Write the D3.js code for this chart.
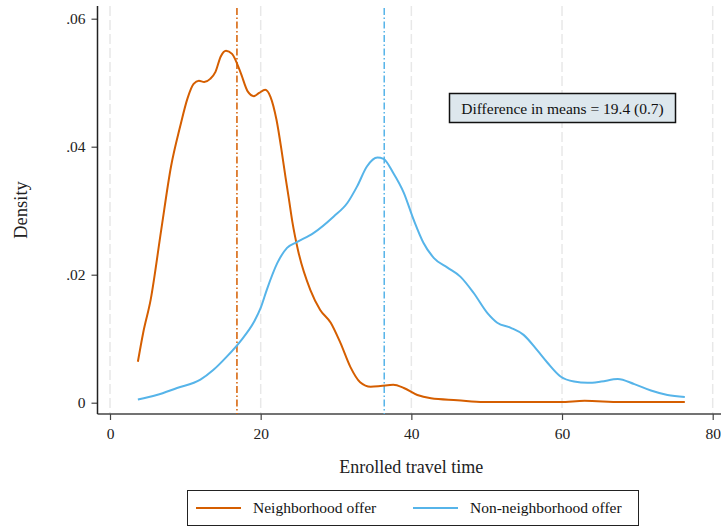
<!DOCTYPE html>
<html>
<head>
<meta charset="utf-8">
<script src="https://cdn.jsdelivr.net/npm/d3@7"></script>
<style>
  html, body { margin: 0; padding: 0; background: #fff; }
  svg, svg text { font-family: "Liberation Serif", "Times New Roman", serif; }
</style>
</head>
<body>
<div id="chart"></div>
<script>
// Kernel density of enrolled travel time
const neighborhoodTime = [3.7, 4.4, 5.4, 6.8, 8.1, 9.3, 10.3, 11.1, 11.8, 12.5, 13.3, 14.0, 14.7, 15.4, 16.2, 17.3, 18.3, 19.1, 19.8, 20.6, 21.3, 22.1, 22.8, 23.3, 23.7, 24.2, 25.0, 26.6, 27.9, 29.3, 30.6, 31.9, 33.2, 34.6, 35.9, 37.6, 39.0, 40.8, 42.6, 46.1, 49.6, 54.5, 59.8, 63.0, 67.8, 76.3];
const neighborhoodDensity = [0.0064, 0.0109, 0.0161, 0.0270, 0.0369, 0.0431, 0.0476, 0.0498, 0.0503, 0.0501, 0.0506, 0.0517, 0.0541, 0.0550, 0.0545, 0.0517, 0.0486, 0.0479, 0.0484, 0.0489, 0.0478, 0.0442, 0.0392, 0.0352, 0.0322, 0.0283, 0.0236, 0.0176, 0.0145, 0.0125, 0.0093, 0.0056, 0.0032, 0.0025, 0.0026, 0.0028, 0.0023, 0.0012, 0.0007, 0.0004, 0.0001, 0.0001, 0.0001, 0.0003, 0.0001, 0.0001];

const nonNeighborhoodTime = [3.7, 6.2, 8.9, 12.0, 13.7, 15.5, 17.3, 19.1, 20.0, 20.8, 22.2, 23.5, 24.8, 27.0, 29.7, 31.5, 32.8, 34.1, 35.5, 36.3, 37.6, 39.0, 40.3, 41.6, 43.0, 44.8, 46.5, 48.3, 50.1, 51.4, 53.2, 54.9, 56.7, 58.1, 59.8, 61.6, 63.4, 65.2, 67.4, 69.6, 71.8, 74.0, 76.3];
const nonNeighborhoodDensity = [0.0005, 0.0012, 0.0023, 0.0036, 0.0051, 0.0072, 0.0096, 0.0126, 0.0148, 0.0176, 0.0218, 0.0242, 0.0251, 0.0265, 0.0291, 0.0312, 0.0338, 0.0369, 0.0383, 0.0381, 0.0359, 0.0328, 0.0286, 0.0250, 0.0226, 0.0211, 0.0197, 0.0171, 0.0140, 0.0125, 0.0117, 0.0106, 0.0082, 0.0062, 0.0041, 0.0033, 0.0031, 0.0033, 0.0037, 0.0029, 0.0019, 0.0012, 0.0009];

const seriesNames = ['Neighborhood offer', 'Non-neighborhood offer'];
const seriesMeans = [16.85, 36.4];
const xTicks = [0, 20, 40, 60, 80];
const yTicks = [0, 0.02, 0.04, 0.06];
const yTickLabels = ['0', '.02', '.04', '.06'];
const noteText = 'Difference in means = 19.4 (0.7)';

(function() {
  const width = 721, height = 527;
  const colors = ['#d55e00', '#56b4e9'];
  const serif = '"Liberation Serif", "Times New Roman", serif';

  const svg = d3.select('#chart').append('svg')
    .attr('width', width)
    .attr('height', height)
    .attr('font-family', serif);

  const x = d3.scaleLinear().domain([0, 80]).range([110, 712.7]);
  const y = d3.scaleLinear().domain([0, 0.06]).range([402.7, 18.7]);

  const plotTop = 6, plotBottom = 414, axisLeft = 97.5, plotRight = 721;

  // vertical grid (dashed, light)
  svg.append('g').selectAll('line')
    .data(xTicks)
    .enter()
    .append('line')
    .attr('x1', d => x(d))
    .attr('x2', d => x(d))
    .attr('y1', plotTop)
    .attr('y2', plotBottom)
    .attr('stroke', '#e8e8e8')
    .attr('stroke-width', 1.5)
    .attr('stroke-dasharray', '10,4');

  // Axes
  const xAxis = d3.axisBottom(x).tickValues(xTicks).tickSize(6).tickPadding(8);
  const yAxis = d3.axisLeft(y).tickValues(yTicks).tickSize(6).tickPadding(6)
    .tickFormat((d, i) => yTickLabels[i]);

  const gx = svg.append('g')
    .attr('transform', `translate(0,${plotBottom})`)
    .call(xAxis);
  gx.select('.domain').remove();
  gx.append('line')
    .attr('x1', axisLeft).attr('x2', plotRight)
    .attr('stroke', '#444').attr('stroke-width', 1.5);

  const gy = svg.append('g')
    .attr('transform', `translate(${axisLeft},0)`)
    .call(yAxis);
  gy.select('.domain').remove();
  gy.append('line')
    .attr('y1', plotTop).attr('y2', plotBottom)
    .attr('stroke', '#222').attr('stroke-width', 1.5);

  [gx, gy].forEach(g => {
    g.attr('font-family', serif).attr('font-size', 15.5);
    g.selectAll('.tick line').attr('stroke', '#444').attr('stroke-width', 1.2);
    g.selectAll('.tick text').attr('fill', '#222');
  });

  // Axis titles
  svg.append('text')
    .attr('x', x(40))
    .attr('y', 473)
    .attr('text-anchor', 'middle')
    .attr('fill', '#222')
    .attr('font-size', 18)
    .text('Enrolled travel time');

  svg.append('text')
    .attr('transform', 'translate(27,210) rotate(-90)')
    .attr('text-anchor', 'middle')
    .attr('fill', '#222')
    .attr('font-size', 18.5)
    .text('Density');

  // Mean lines
  svg.append('g').selectAll('line')
    .data(seriesMeans)
    .enter()
    .append('line')
    .attr('x1', d => x(d))
    .attr('x2', d => x(d))
    .attr('y1', plotTop + 2)
    .attr('y2', plotBottom)
    .attr('stroke', (d, i) => colors[i])
    .attr('stroke-width', 1.5)
    .attr('stroke-dasharray', '7,2.5,1.5,2.5');

  // Density curves
  const series = [
    neighborhoodTime.map((t, i) => ({ t, d: neighborhoodDensity[i] })),
    nonNeighborhoodTime.map((t, i) => ({ t, d: nonNeighborhoodDensity[i] }))
  ];

  const line = d3.line()
    .x(p => x(p.t))
    .y(p => y(p.d))
    .curve(d3.curveMonotoneX);

  svg.append('g').selectAll('path')
    .data(series)
    .enter()
    .append('path')
    .attr('d', line)
    .attr('fill', 'none')
    .attr('stroke', (d, i) => colors[i])
    .attr('stroke-width', 2)
    .attr('stroke-linejoin', 'round');

  // Note box
  const note = svg.append('g');
  note.append('rect')
    .attr('x', 449.5)
    .attr('y', 93.5)
    .attr('width', 226)
    .attr('height', 29)
    .attr('fill', '#dde7ed')
    .attr('stroke', '#111')
    .attr('stroke-width', 1.5);
  note.append('text')
    .attr('x', 562.5)
    .attr('y', 113.5)
    .attr('text-anchor', 'middle')
    .attr('fill', '#111')
    .attr('font-size', 15.5)
    .text(noteText);

  // Legend
  const legend = svg.append('g');
  legend.append('rect')
    .attr('x', 187.5)
    .attr('y', 490.5)
    .attr('width', 451)
    .attr('height', 35)
    .attr('fill', '#fff')
    .attr('stroke', '#222')
    .attr('stroke-width', 1);

  const legendX = [196, 413];
  seriesNames.forEach((name, i) => {
    legend.append('line')
      .attr('x1', legendX[i])
      .attr('x2', legendX[i] + 45)
      .attr('y1', 508)
      .attr('y2', 508)
      .attr('stroke', colors[i])
      .attr('stroke-width', 2);
    legend.append('text')
      .attr('x', legendX[i] + 57)
      .attr('y', 513)
      .attr('fill', '#111')
      .attr('font-size', 15.5)
      .text(name);
  });
})();
</script>
</body>
</html>
